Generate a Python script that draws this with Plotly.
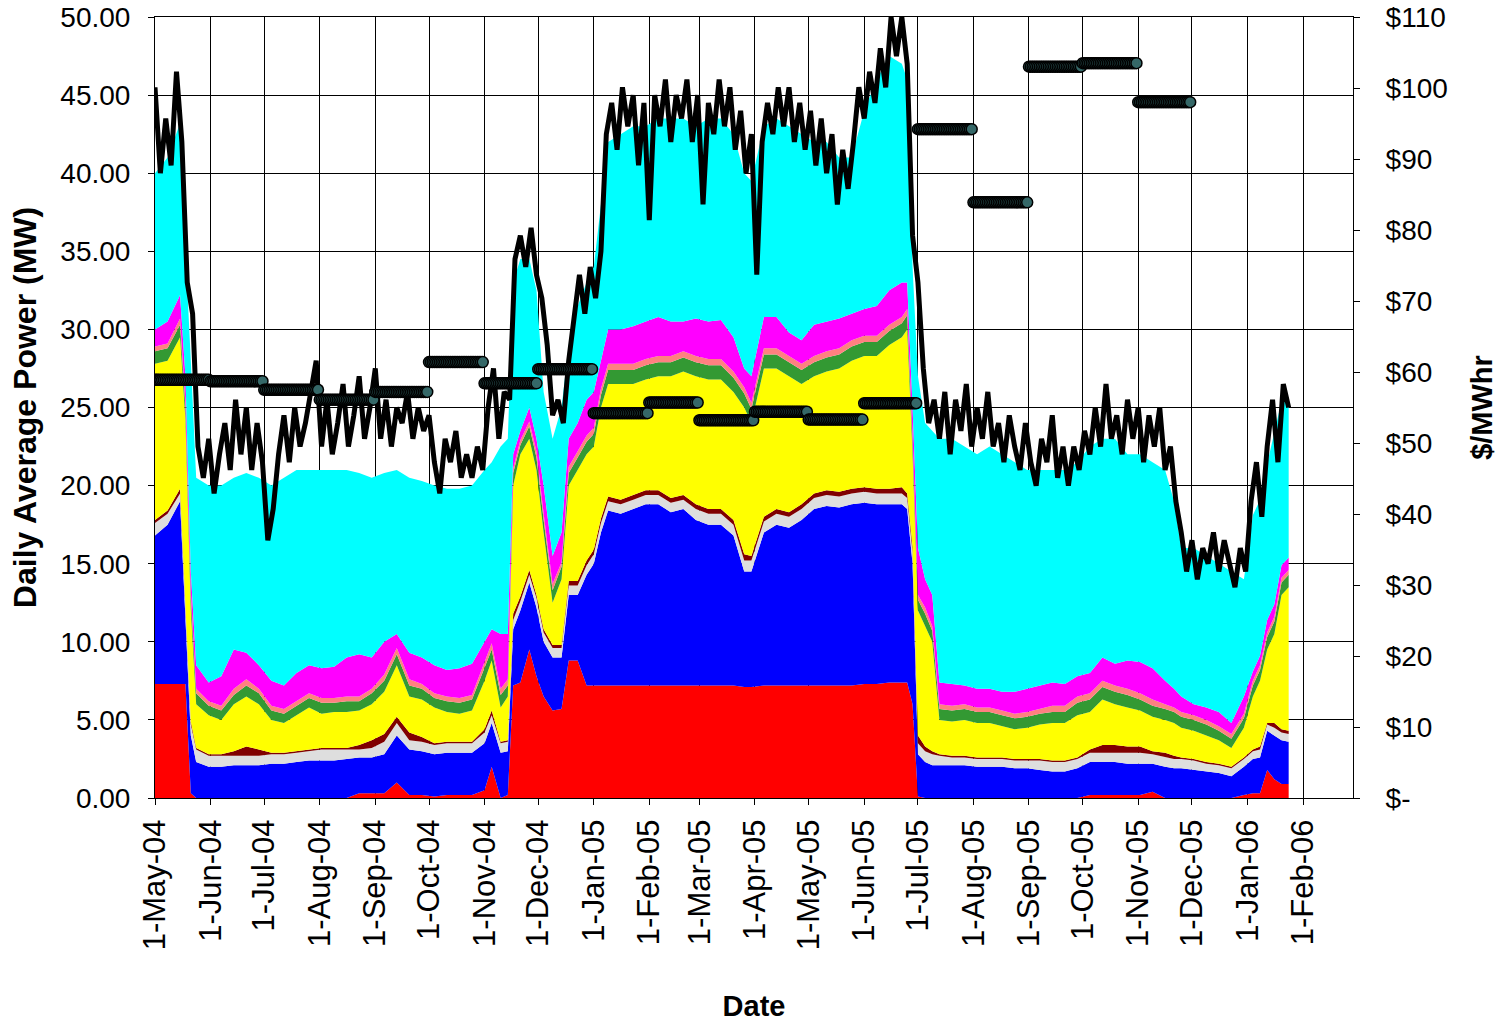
import pandas as pd
import plotly.graph_objects as go

# ---------------- stacked generation layers (MW) ----------------
dates = [
    "2004-05-01", "2004-05-08", "2004-05-15", "2004-05-18", "2004-05-21", "2004-05-24", "2004-05-31", "2004-06-07", "2004-06-14", "2004-06-21",
    "2004-06-28", "2004-07-05", "2004-07-12", "2004-07-19", "2004-07-26", "2004-08-02", "2004-08-09", "2004-08-16", "2004-08-23", "2004-08-30",
    "2004-09-06", "2004-09-13", "2004-09-20", "2004-09-27", "2004-10-04", "2004-10-11", "2004-10-18", "2004-10-25", "2004-11-01", "2004-11-05",
    "2004-11-10", "2004-11-14", "2004-11-17", "2004-11-21", "2004-11-26", "2004-11-30", "2004-12-04", "2004-12-09", "2004-12-14", "2004-12-18",
    "2004-12-23", "2004-12-28", "2005-01-01", "2005-01-05", "2005-01-09", "2005-01-16", "2005-01-23", "2005-01-30", "2005-02-06", "2005-02-13",
    "2005-02-20", "2005-02-27", "2005-03-06", "2005-03-13", "2005-03-20", "2005-03-26", "2005-03-30", "2005-04-06", "2005-04-13", "2005-04-20",
    "2005-04-27", "2005-05-04", "2005-05-11", "2005-05-18", "2005-05-25", "2005-06-01", "2005-06-08", "2005-06-15", "2005-06-22", "2005-06-25",
    "2005-06-28", "2005-07-01", "2005-07-05", "2005-07-09", "2005-07-13", "2005-07-20", "2005-07-27", "2005-08-03", "2005-08-10", "2005-08-17",
    "2005-08-24", "2005-08-31", "2005-09-07", "2005-09-14", "2005-09-21", "2005-09-28", "2005-10-05", "2005-10-12", "2005-10-19", "2005-10-26",
    "2005-11-02", "2005-11-09", "2005-11-16", "2005-11-21", "2005-11-25", "2005-12-02", "2005-12-09", "2005-12-16", "2005-12-23", "2005-12-30",
    "2006-01-04", "2006-01-08", "2006-01-12", "2006-01-16", "2006-01-20", "2006-01-24",
]

red = [
    7.3, 7.3, 7.3, 7.3, 0.3, 0, 0, 0, 0, 0,
    0, 0, 0, 0, 0, 0, 0, 0, 0.3, 0.3,
    0.3, 1.0, 0.2, 0.2, 0.1, 0.2, 0.2, 0.2, 0.5, 2.0,
    0, 0.2, 7.2, 7.4, 9.5, 7.8, 6.5, 5.6, 5.7, 8.8,
    8.8, 7.2, 7.2, 7.2, 7.2, 7.2, 7.2, 7.2, 7.2, 7.2,
    7.2, 7.2, 7.2, 7.2, 7.2, 7.1, 7.1, 7.2, 7.2, 7.2,
    7.2, 7.2, 7.2, 7.2, 7.2, 7.3, 7.3, 7.4, 7.4, 7.4,
    6.0, 0.1, 0, 0, 0, 0, 0, 0, 0, 0,
    0, 0, 0, 0, 0, 0, 0.2, 0.2, 0.2, 0.2,
    0.2, 0.4, 0, 0, 0, 0, 0, 0, 0, 0.2,
    0.3, 0.3, 1.8, 1.2, 0.9, 0.9,
]
blue = [
    9.5, 10.2, 11.7, 3.7, 3.7, 2.3, 2.0, 2.0, 2.1, 2.1,
    2.1, 2.2, 2.2, 2.3, 2.4, 2.4, 2.4, 2.5, 2.3, 2.3,
    2.5, 3.0, 2.9, 2.8, 2.7, 2.7, 2.7, 2.7, 3.0, 2.8,
    2.9, 2.8, 3.6, 4.6, 4.3, 4.4, 3.5, 3.4, 3.3, 4.2,
    4.2, 7.1, 7.8, 9.8, 11.2, 11.0, 11.3, 11.6, 11.6, 11.1,
    11.3, 10.6, 10.3, 10.3, 9.6, 7.4, 7.4, 9.8, 10.3, 10.1,
    10.6, 11.3, 11.5, 11.4, 11.6, 11.6, 11.5, 11.4, 11.4, 11.1,
    9.0, 2.7, 2.3, 2.1, 2.1, 2.1, 2.1, 2.0, 2.0, 2.0,
    1.9, 1.9, 1.8, 1.7, 1.7, 1.9, 2.1, 2.1, 2.1, 2.0,
    2.0, 1.8, 2.0, 1.9, 1.9, 1.8, 1.7, 1.6, 1.4, 1.8,
    2.2, 2.3, 2.5, 2.8, 2.8, 2.7,
]
light_grey = [
    0.8, 0.7, 0.5, 1.0, 0.7, 0.8, 0.7, 0.7, 0.6, 0.6,
    0.6, 0.6, 0.6, 0.6, 0.6, 0.7, 0.7, 0.6, 0.5, 0.6,
    0.8, 0.8, 0.6, 0.6, 0.6, 0.6, 0.6, 0.6, 0.7, 0.5,
    0.6, 0.6, 0.6, 0.6, 0.5, 0.6, 0.6, 0.6, 0.6, 0.6,
    0.6, 0.6, 0.6, 0.6, 0.6, 0.6, 0.6, 0.6, 0.6, 0.6,
    0.6, 0.7, 0.7, 0.7, 0.7, 0.7, 0.7, 0.7, 0.7, 0.7,
    0.7, 0.7, 0.7, 0.7, 0.7, 0.7, 0.7, 0.7, 0.7, 0.7,
    0.7, 0.7, 0.7, 0.7, 0.6, 0.5, 0.5, 0.5, 0.5, 0.5,
    0.5, 0.5, 0.6, 0.6, 0.6, 0.6, 0.6, 0.6, 0.6, 0.7,
    0.7, 0.6, 0.6, 0.6, 0.6, 0.6, 0.5, 0.5, 0.5, 0.5,
    0.5, 0.5, 0.4, 0.5, 0.5, 0.5,
]
maroon = [
    0.2, 0.2, 0.3, 0.2, 0.2, 0.1, 0.1, 0.1, 0.3, 0.6,
    0.4, 0.1, 0.1, 0.1, 0.1, 0.1, 0.1, 0.1, 0.3, 0.5,
    0.5, 0.4, 0.5, 0.3, 0.1, 0.1, 0.1, 0.1, 0.2, 0.3,
    0.1, 0.1, 0.4, 0.3, 0.3, 0.2, 0.2, 0.2, 0.2, 0.3,
    0.3, 0.3, 0.3, 0.3, 0.3, 0.3, 0.3, 0.3, 0.3, 0.3,
    0.3, 0.3, 0.3, 0.3, 0.3, 0.4, 0.3, 0.3, 0.3, 0.3,
    0.3, 0.3, 0.3, 0.3, 0.3, 0.3, 0.3, 0.3, 0.4, 0.3,
    0.4, 0.5, 0.3, 0.2, 0.1, 0.1, 0.1, 0.1, 0.1, 0.1,
    0.1, 0.1, 0.1, 0.1, 0.1, 0.1, 0.2, 0.5, 0.5, 0.4,
    0.4, 0.2, 0.3, 0.2, 0.1, 0.1, 0.1, 0.1, 0.1, 0.1,
    0.1, 0.2, 0.1, 0.3, 0.2, 0.2,
]
yellow = [
    10.0, 9.6, 9.7, 12.0, 7.1, 2.8, 2.5, 2.2, 3.0, 3.2,
    2.9, 2.1, 1.9, 2.3, 2.7, 2.2, 2.3, 2.3, 2.2, 2.3,
    2.7, 3.3, 2.3, 2.4, 2.3, 1.9, 1.8, 2.0, 3.1, 3.2,
    2.2, 2.8, 8.2, 9.1, 8.4, 8.0, 6.2, 2.7, 4.2, 6.1,
    7.1, 6.8, 6.6, 7.1, 7.2, 7.4, 7.1, 7.1, 7.3, 7.8,
    7.9, 8.2, 8.3, 8.3, 8.2, 9.4, 8.5, 9.5, 9.0, 8.7,
    7.7, 7.5, 7.6, 7.9, 8.2, 8.4, 8.5, 9.2, 9.6, 10.5,
    5.9, 8.0, 7.7, 7.0, 2.2, 2.2, 2.3, 2.2, 2.2, 2.0,
    1.9, 2.0, 2.2, 2.4, 2.4, 2.7, 2.4, 2.9, 2.6, 2.5,
    2.3, 2.2, 2.1, 2.1, 1.9, 1.8, 1.7, 1.5, 1.2, 1.9,
    3.4, 4.2, 4.7, 5.7, 8.6, 9.2,
]
green = [
    0.8, 0.8, 0.8, 0.8, 0.8, 0.7, 0.6, 0.6, 0.6, 0.7,
    0.7, 0.6, 0.6, 0.6, 0.6, 0.7, 0.6, 0.7, 0.6, 0.7,
    0.7, 0.7, 0.7, 0.7, 0.6, 0.7, 0.7, 0.7, 0.8, 0.7,
    0.8, 0.7, 0.8, 0.6, 0.8, 0.8, 0.8, 0.8, 0.8, 0.8,
    0.8, 0.8, 0.8, 0.8, 0.9, 0.9, 0.9, 0.9, 0.9, 0.9,
    0.9, 0.9, 0.9, 0.9, 0.9, 0.9, 0.9, 0.9, 0.9, 0.9,
    0.9, 0.9, 0.9, 0.9, 0.9, 0.9, 0.9, 0.9, 0.9, 0.9,
    0.8, 0.7, 0.8, 0.7, 0.7, 0.7, 0.7, 0.7, 0.7, 0.7,
    0.7, 0.7, 0.7, 0.7, 0.7, 0.8, 0.8, 0.8, 0.8, 0.8,
    0.7, 0.7, 0.7, 0.7, 0.7, 0.7, 0.7, 0.6, 0.6, 0.6,
    0.7, 0.7, 0.8, 0.8, 0.8, 0.8,
]
salmon = [
    0.3, 0.3, 0.4, 0.4, 0.4, 0.3, 0.3, 0.3, 0.4, 0.4,
    0.3, 0.3, 0.3, 0.3, 0.3, 0.3, 0.3, 0.3, 0.3, 0.3,
    0.4, 0.4, 0.4, 0.3, 0.3, 0.3, 0.3, 0.3, 0.4, 0.4,
    0.4, 0.4, 0.3, 0.3, 0.3, 0.4, 0.4, 0.4, 0.3, 0.4,
    0.4, 0.4, 0.4, 0.4, 0.4, 0.4, 0.4, 0.4, 0.4, 0.4,
    0.4, 0.4, 0.4, 0.4, 0.4, 0.4, 0.4, 0.4, 0.4, 0.4,
    0.4, 0.4, 0.4, 0.4, 0.4, 0.4, 0.4, 0.4, 0.4, 0.4,
    0.4, 0.3, 0.4, 0.3, 0.3, 0.3, 0.3, 0.3, 0.3, 0.3,
    0.3, 0.3, 0.3, 0.4, 0.4, 0.4, 0.4, 0.4, 0.4, 0.4,
    0.4, 0.4, 0.3, 0.3, 0.3, 0.3, 0.3, 0.3, 0.3, 0.3,
    0.3, 0.3, 0.3, 0.3, 0.3, 0.3,
]
magenta = [
    1.1, 1.4, 1.5, 1.6, 1.3, 1.5, 1.2, 1.9, 2.5, 1.7,
    1.5, 1.6, 1.5, 1.8, 1.8, 1.9, 2.0, 2.5, 2.7, 2.0,
    2.1, 0.9, 1.7, 1.7, 1.8, 1.7, 1.9, 2.0, 1.3, 0.9,
    3.5, 2.9, 0.9, 0.6, 0.9, 0.8, 1.8, 1.8, 1.9, 1.8,
    1.8, 2.3, 2.3, 1.8, 2.2, 2.2, 2.4, 2.4, 2.5, 2.2,
    1.9, 2.4, 2.4, 2.5, 2.2, 1.2, 1.7, 2.0, 2.0, 1.5,
    1.5, 2.0, 1.9, 1.9, 1.7, 1.7, 1.9, 2.2, 2.2, 1.7,
    1.8, 3.0, 1.8, 2.0, 1.4, 1.4, 1.2, 1.2, 1.2, 1.2,
    1.4, 1.5, 1.5, 1.5, 1.4, 1.3, 1.3, 1.5, 1.4, 1.8,
    2.0, 2.0, 1.5, 1.2, 1.0, 0.7, 0.8, 0.9, 0.7, 1.1,
    0.6, 0.6, 0.8, 0.8, 0.8, 0.8,
]
cyan = [
    10.0, 10.5, 11.0, 8.0, 13.5, 12.0, 12.6, 12.2, 11.0, 11.5,
    12.0, 12.5, 13.3, 13.0, 12.5, 12.7, 12.6, 12.0, 11.6, 11.5,
    10.8, 10.5, 11.2, 11.3, 11.5, 11.6, 11.5, 11.4, 11.0, 10.7,
    12.0, 12.5, 11.0, 11.0, 9.5, 9.5, 6.0, 7.5, 8.0, 6.0,
    7.5, 7.5, 8.0, 10.0, 12.0, 12.5, 12.8, 12.5, 12.7, 13.0,
    13.0, 12.3, 13.0, 12.9, 13.0, 12.5, 12.5, 12.2, 12.7, 13.2,
    13.2, 11.7, 11.5, 10.3, 10.0, 12.7, 14.5, 15.0, 14.0, 13.0,
    9.0, 11.0, 10.0, 10.5, 15.6, 15.7, 15.3, 15.0, 15.5, 15.2,
    14.7, 14.0, 13.8, 13.6, 13.7, 13.7, 14.5, 14.0, 14.4, 13.2,
    13.3, 13.2, 13.5, 12.0, 9.5, 10.0, 9.7, 9.5, 9.7, 7.5,
    10.0, 10.0, 10.0, 11.0, 10.5, 10.0,
]

# ---------------- daily average power line (MW), every 3rd day from 1-May-04 ----------------
power_start = "2004-05-01"
power_step = "3D"
power_mw = [
    45.5, 40.0, 43.5, 40.5, 46.5, 42.0, 33.0, 31.0, 22.5, 20.5, 23.0, 19.5,
    22.0, 24.0, 21.0, 25.5, 22.0, 25.0, 21.0, 24.0, 21.5, 16.5, 18.5, 22.0,
    24.5, 21.5, 25.0, 22.5, 24.0, 26.0, 28.0, 22.5, 25.5, 22.0, 24.0, 26.5,
    22.5, 24.5, 27.0, 23.0, 25.0, 27.5, 23.0, 25.5, 22.5, 25.0, 24.0, 26.0,
    23.0, 25.0, 23.5, 24.5, 21.5, 19.5, 23.0, 21.5, 23.5, 20.5, 22.0, 20.5,
    22.5, 21.0, 25.0, 27.5, 23.0, 26.0, 25.5, 34.5, 36.0, 34.0, 36.5, 33.5,
    32.0, 29.0, 24.5, 25.5, 24.0, 28.0, 30.5, 33.5, 31.0, 34.0, 32.0, 35.0,
    42.5, 44.5, 41.5, 45.5, 43.0, 45.0, 40.5, 44.5, 37.0, 45.0, 43.0, 46.0,
    42.0, 45.0, 43.5, 46.0, 42.0, 45.0, 38.0, 44.5, 42.5, 46.0, 43.0, 45.5,
    41.5, 44.0, 40.0, 42.5, 33.5, 42.0, 44.5, 42.5, 45.5, 43.0, 45.5, 42.0,
    44.5, 41.5, 44.0, 40.5, 43.5, 40.0, 42.5, 38.0, 41.5, 39.0, 42.0, 45.5,
    43.5, 46.5, 44.5, 48.0, 45.5, 50.0, 47.5, 50.0, 47.0, 36.0, 33.0, 27.5,
    24.0, 25.5, 23.0, 26.0, 22.0, 25.5, 23.5, 26.5, 22.5, 25.0, 23.0, 26.0,
    22.5, 24.0, 21.5, 24.5, 22.5, 21.0, 24.0, 21.5, 20.0, 23.0, 21.5, 24.5,
    20.5, 22.5, 20.0, 22.5, 21.0, 23.5, 22.0, 25.0, 22.5, 26.5, 23.0, 24.5,
    22.0, 25.5, 23.0, 25.0, 21.5, 24.5, 22.5, 25.0, 21.0, 22.5, 19.0, 17.0,
    14.5, 16.5, 14.0, 16.0, 15.0, 17.0, 14.5, 16.5, 15.0, 13.5, 16.0, 14.5,
    19.0, 21.5, 18.0, 22.5, 25.5, 21.5, 26.5, 25.0,
]

# ---------------- monthly price ($/MWhr) ----------------
price_months = [
    "2004-05", "2004-06", "2004-07", "2004-08", "2004-09", "2004-10", "2004-11", "2004-12",
    "2005-01", "2005-02", "2005-03", "2005-04", "2005-05", "2005-06", "2005-07", "2005-08",
    "2005-09", "2005-10", "2005-11",
]
price_usd = [
    58.9, 58.7, 57.5, 56.1, 57.2, 61.4, 58.4, 60.4,
    54.2, 55.7, 53.2, 54.4, 53.3, 55.6, 94.2, 83.9,
    103.0, 103.5, 98.0,
]

# ---------------- tick labels ----------------
left_ticks = [0, 5, 10, 15, 20, 25, 30, 35, 40, 45, 50]
right_ticks = [0, 10, 20, 30, 40, 50, 60, 70, 80, 90, 100, 110]
right_labels = ["$-", "$10", "$20", "$30", "$40", "$50", "$60", "$70", "$80", "$90", "$100", "$110"]

FONT = "Liberation Sans, Arial, Helvetica, sans-serif"

fig = go.Figure()

layers = [
    ("red", red, "#FF0000"),
    ("blue", blue, "#0000FF"),
    ("light grey", light_grey, "#DEDEDE"),
    ("maroon", maroon, "#800000"),
    ("yellow", yellow, "#FFFF00"),
    ("green", green, "#339933"),
    ("salmon", salmon, "#FF8080"),
    ("magenta", magenta, "#FF00FF"),
    ("cyan", cyan, "#00FFFF"),
]
for name, vals, col in layers:
    fig.add_trace(go.Scatter(
        x=dates, y=vals, name=name, mode="lines", stackgroup="gen",
        line=dict(width=0, color=col), fillcolor=col, hoverinfo="skip",
    ))

power_dates = pd.date_range(power_start, periods=len(power_mw), freq=power_step)
fig.add_trace(go.Scatter(
    x=power_dates, y=power_mw, mode="lines", name="Daily average",
    line=dict(color="black", width=5), hoverinfo="skip",
))

px_dates, px_vals = [], []
for m, p in zip(price_months, price_usd):
    start = pd.Timestamp(m + "-01")
    end = start + pd.offsets.MonthEnd(0)
    for d in pd.date_range(start, end, freq="D"):
        px_dates.append(d)
        px_vals.append(p)
fig.add_trace(go.Scatter(
    x=px_dates, y=px_vals, mode="markers", name="Price", yaxis="y2",
    marker=dict(size=11, color="#356868", line=dict(color="black", width=1.5)),
    hoverinfo="skip",
))

fig.update_layout(
    template="none",
    width=1508, height=1022,
    margin=dict(l=155, r=155, t=17, b=224, autoexpand=False),
    plot_bgcolor="white", paper_bgcolor="white",
    showlegend=False, hovermode=False,
    font=dict(family=FONT, color="black", size=28),
    xaxis=dict(
        type="date", range=["2004-05-01", "2006-02-28T22:00"],
        tick0="2004-05-01", dtick="M1", tickformat="%-d-%b-%y", tickangle=-90,
        showgrid=True, gridcolor="black", gridwidth=1,
        showline=True, linecolor="black", linewidth=1, mirror=True,
        ticks="outside", ticklen=6, tickcolor="black",
        tickfont=dict(size=31, family=FONT), ticklabelstandoff=2,
        title=dict(text="<b>Date</b>", font=dict(size=29, family=FONT), standoff=48),
        zeroline=False, automargin=False,
    ),
    yaxis=dict(
        range=[0, 50], tickvals=left_ticks, tickformat=".2f",
        showgrid=True, gridcolor="black", gridwidth=1,
        showline=True, linecolor="black", linewidth=1,
        ticks="outside", ticklen=6, tickcolor="black",
        tickfont=dict(size=28, family=FONT), ticklabelstandoff=12,
        ticklabeloverflow="allow",
        title=dict(text="<b>Daily Average Power (MW)</b>", font=dict(size=32, family=FONT), standoff=14),
        zeroline=False, automargin=False,
    ),
    yaxis2=dict(
        overlaying="y", side="right", range=[0, 110],
        tickvals=right_ticks, ticktext=right_labels,
        showgrid=False, showline=True, linecolor="black", linewidth=1,
        ticks="outside", ticklen=6, tickcolor="black",
        tickfont=dict(size=28, family=FONT), ticklabelstandoff=20,
        ticklabeloverflow="allow",
        title=dict(text="<b>$/MWhr</b>", font=dict(size=29, family=FONT), standoff=24),
        zeroline=False, automargin=False,
    ),
)

# place the figure flush with the page corner so the layout maps 1:1 onto the window
fig.write_html(
    "out.html",
    config={"displayModeBar": False, "staticPlot": True},
    post_script="document.body.style.margin='0';",
)
